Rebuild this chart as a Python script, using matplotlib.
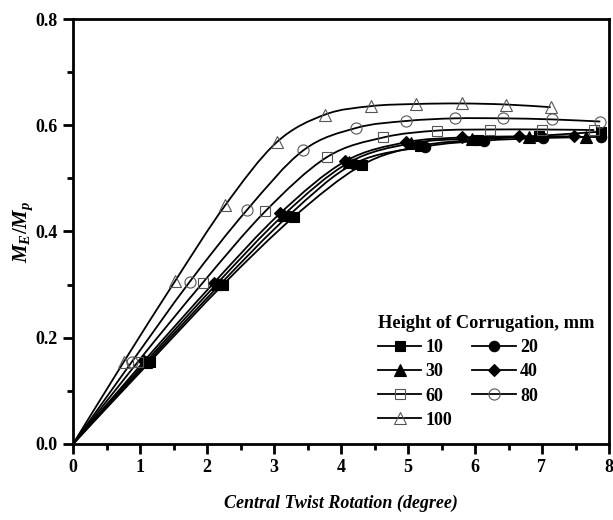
import matplotlib
matplotlib.use('Agg')

import matplotlib.pyplot as plt
from matplotlib.path import Path
from matplotlib.patches import PathPatch
from matplotlib.lines import Line2D
from matplotlib.ticker import MultipleLocator, FormatStrFormatter
import numpy as np

plt.rcParams['font.family'] = ['Liberation Serif', 'DejaVu Serif']
plt.rcParams['font.weight'] = 'bold'
plt.rcParams['mathtext.fontset'] = 'custom'
plt.rcParams['mathtext.it'] = 'Liberation Serif:bold:italic'
plt.rcParams['mathtext.rm'] = 'Liberation Serif:bold'

# twist rotation (degree) and normalised moment for each corrugation height (mm)
heights = ['10', '20', '30', '40', '60', '80', '100']

x_10 = [0, 1.15, 2.24, 3.30, 4.31, 5.18, 6.05, 6.95, 7.88]
y_10 = [0, 0.155, 0.300, 0.428, 0.525, 0.561, 0.573, 0.580, 0.588]

x_20 = [0, 1.12, 2.20, 3.22, 4.20, 5.26, 6.13, 7.02, 7.88]
y_20 = [0, 0.155, 0.301, 0.430, 0.528, 0.560, 0.571, 0.576, 0.578]

x_30 = [0, 1.09, 2.15, 3.15, 4.12, 5.05, 5.96, 6.80, 7.65]
y_30 = [0, 0.155, 0.302, 0.432, 0.530, 0.566, 0.575, 0.578, 0.578]

x_40 = [0, 1.06, 2.10, 3.09, 4.06, 4.97, 5.81, 6.66, 7.48]
y_40 = [0, 0.156, 0.303, 0.434, 0.532, 0.568, 0.577, 0.579, 0.579]

x_60 = [0, 0.97, 1.94, 2.87, 3.79, 4.63, 5.44, 6.23, 7.00, 7.78]
y_60 = [0, 0.155, 0.304, 0.438, 0.540, 0.577, 0.590, 0.592, 0.592, 0.591]

x_80 = [0, 0.88, 1.74, 2.60, 3.44, 4.23, 4.97, 5.70, 6.42, 7.15, 7.87]
y_80 = [0, 0.155, 0.305, 0.441, 0.553, 0.595, 0.608, 0.613, 0.613, 0.611, 0.607]

x_100 = [0, 0.76, 1.52, 2.27, 3.04, 3.76, 4.45, 5.12, 5.80, 6.47, 7.13]
y_100 = [0, 0.155, 0.306, 0.449, 0.568, 0.620, 0.636, 0.640, 0.641, 0.639, 0.634]

xs = [x_10, x_20, x_30, x_40, x_60, x_80, x_100]
ys = [y_10, y_20, y_30, y_40, y_60, y_80, y_100]
markers = ['s', 'o', '^', 'D', 's', 'o', '^']
filled = [True, True, True, True, False, False, False]
sizes = [7, 7.5, 8, 6.5, 7, 8, 9]


def spline_path(x, y):
    # Catmull-Rom through the points, written as cubic Bezier pieces
    p = np.column_stack([x, y]).astype(float)
    p = np.vstack([p[0], p, p[-1]])
    verts = [p[1]]
    codes = [Path.MOVETO]
    for i in range(1, len(p) - 2):
        c1 = p[i] + (p[i + 1] - p[i - 1]) / 6.0
        c2 = p[i + 1] - (p[i + 2] - p[i]) / 6.0
        verts += [c1, c2, p[i + 1]]
        codes += [Path.CURVE4] * 3
    return Path(verts, codes)


fig = plt.figure(figsize=(6.13, 5.2), dpi=100)
ax = fig.add_axes([73 / 613, 1 - 444 / 520, 536 / 613, 425 / 520])

handles = []
for x, y, m, f, ms, lab in zip(xs, ys, markers, filled, sizes, heights):
    ax.add_patch(PathPatch(spline_path(x, y), facecolor='none', edgecolor='black', lw=1.3, zorder=2))
    if f:
        kw = dict(markerfacecolor='black', markeredgecolor='black', markeredgewidth=0.8)
    else:
        kw = dict(markerfacecolor='none', markeredgecolor='#555555', markeredgewidth=0.8)
    ax.plot(x[1:], y[1:], linestyle='none', marker=m, markersize=ms, zorder=3, **kw)
    handles.append(Line2D([], [], color='black', lw=1.3, marker=m, markersize=ms, label=lab, **kw))

ax.set_xlim(0, 8)
ax.set_ylim(0, 0.8)
ax.xaxis.set_major_locator(MultipleLocator(1))
ax.xaxis.set_minor_locator(MultipleLocator(0.5))
ax.yaxis.set_major_locator(MultipleLocator(0.2))
ax.yaxis.set_minor_locator(MultipleLocator(0.1))
ax.yaxis.set_major_formatter(FormatStrFormatter('%.1f'))
ax.tick_params(which='major', direction='out', length=7, width=2, labelsize=13, pad=4)
ax.tick_params(which='minor', direction='out', length=4, width=2)
for s in ax.spines.values():
    s.set_linewidth(2)

ax.set_xlabel('Central Twist Rotation (degree)', fontsize=13, fontweight='bold', style='italic', labelpad=13)
ax.set_ylabel('$M_E/M_p$', fontsize=15, labelpad=0)

# legend reads row by row: 10 20 / 30 40 / 60 80 / 100
order = [0, 2, 4, 6, 1, 3, 5]
leg = ax.legend(handles=[handles[i] for i in order], ncol=2, frameon=False,
                title='Height of Corrugation, mm', fontsize=13,
                title_fontproperties={'weight': 'bold', 'size': 13.2},
                handlelength=2.4, columnspacing=1.1, labelspacing=0.4, handletextpad=0.25,
                borderpad=0, loc='upper left', bbox_to_anchor=(0.552, 0.325))
leg._legend_box.align = 'left'

fig.savefig('out.png', dpi=100)
